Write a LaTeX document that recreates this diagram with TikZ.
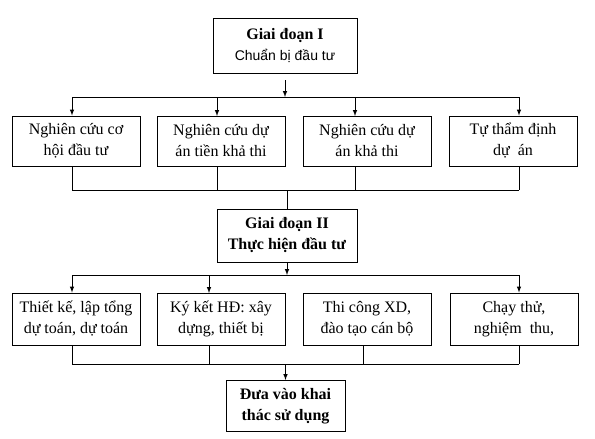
\documentclass[tikz,border=0pt]{standalone}
\usepackage{fontspec}
\setmainfont{Liberation Serif}
\newfontfamily\labelsans{Liberation Sans}
\usepackage{tikz}

\begin{document}
\begin{tikzpicture}[x=1pt, y=-1pt, >=latex, line width=1pt,
    stagebox/.style={draw, align=center, inner sep=0pt, font=\fontsize{16}{21}\selectfont},
    workbox/.style={stagebox, minimum width=128pt, minimum height=50pt}]
    \useasboundingbox (0,0) rectangle (595,439);

    % Giai doan I
    \node[stagebox, minimum width=144pt, minimum height=55pt] (phase1) at (285,46)
        {\textbf{Giai đoạn I}\\{\labelsans\fontsize{14}{18}\selectfont Chuẩn bị đầu tư}};

    % Buoc chuan bi
    \node[workbox] (prep1) at (76,141) {Nghiên cứu cơ\\hội đầu tư};
    \node[workbox] (prep2) at (221,141) {Nghiên cứu dự\\án tiền khả thi};
    \node[workbox] (prep3) at (367,141) {Nghiên cứu dự\\án khả thi};
    \node[workbox] (prep4) at (513,141) {Tự thẩm định\\dự\ \ án};

    % Giai doan II
    \node[stagebox, minimum width=140pt, minimum height=53pt] (phase2) at (287,235.5)
        {\textbf{Giai đoạn II}\\\textbf{Thực hiện đầu tư}};

    % Buoc thuc hien
    \node[workbox, minimum height=52pt] (exec1) at (76,319) {Thiết kế, lập tổng\\dự toán, dự toán};
    \node[workbox, minimum height=52pt] (exec2) at (221,319) {Ký kết HĐ: xây\\dựng, thiết bị};
    \node[workbox, minimum height=52pt] (exec3) at (367,319) {Thi công XD,\\đào tạo cán bộ};
    \node[workbox, minimum height=52pt] (exec4) at (514,319) {Chạy thử,\\nghiệm\ \ thu,};

    % Dua vao khai thac
    \node[stagebox, minimum width=119pt, minimum height=51pt] (finish) at (285.5,406)
        {\textbf{Đưa vào khai}\\\textbf{thác sử dụng}};

    % Bus lines
    \coordinate (busA) at (72,97);
    \coordinate (busB) at (519,97);
    \coordinate (busC) at (72,190);
    \coordinate (busD) at (519,190);
    \coordinate (busE) at (72,275);
    \coordinate (busF) at (519,275);
    \coordinate (busG) at (72,364);
    \coordinate (busH) at (519,364);
    \draw (busA) -- (busB);
    \draw (busC) -- (busD);
    \draw (busE) -- (busF);
    \draw (busG) -- (busH);

    % Giai doan I -> cac buoc
    \draw[->] ([yshift=-6pt]phase1.south) -- (phase1.south |- busA);
    \draw[->] (busA) -- (busA |- prep1.north);
    \draw[->] (217,97) -- (217,116);
    \draw[->] (355,97) -- (355,116);
    \draw[->] (busB) -- (busB |- prep4.north);

    % Cac buoc -> Giai doan II
    \draw (busC |- prep1.south) -- (busC);
    \draw (217,166) -- (217,190);
    \draw (355,166) -- (355,190);
    \draw (busD |- prep4.south) -- (busD);
    \draw (phase2.north |- busC) -- (phase2.north);

    % Giai doan II -> cac buoc
    \draw[->] (phase2.south) -- (phase2.south |- busE);
    \draw[->] (busE) -- (busE |- exec1.north);
    \draw[->] (209,275) -- (209,293);
    \draw[->] (busF) -- (busF |- exec4.north);

    % Cac buoc -> khai thac
    \draw (busG |- exec1.south) -- (busG);
    \draw (209,345) -- (209,364);
    \draw (363,345) -- (363,364);
    \draw (busH |- exec4.south) -- (busH);
    \draw[->] (finish.north |- busG) -- (finish.north);
\end{tikzpicture}
\end{document}
